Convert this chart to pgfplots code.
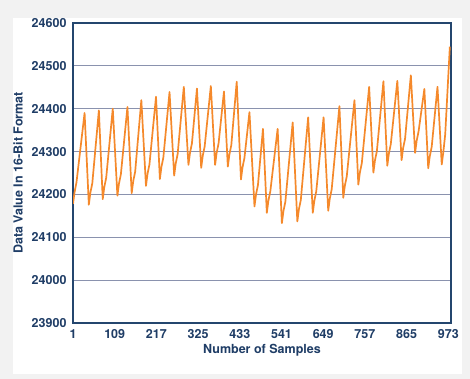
\documentclass[border=0pt]{standalone}
\usepackage{fontspec}
\setmainfont{TeX Gyre Heros}
\usepackage{pgfplots}
\pgfplotsset{compat=1.18}
\definecolor{bgc}{HTML}{F2F2F2}
\definecolor{axisc}{HTML}{24466E}
\definecolor{gridc}{HTML}{8A92AE}
\definecolor{textc}{HTML}{1F3D66}
\definecolor{linec}{HTML}{F5892B}
\begin{document}
\begin{tikzpicture}
\useasboundingbox (0,0) rectangle (470pt,379pt);
\fill[bgc] (0,0) rectangle (470pt,379pt);
\fill[white] (13pt,5pt) rectangle (462pt,361pt);
\begin{axis}[
  at={(73pt,56pt)}, anchor=south west,
  scale only axis, width=378pt, height=300pt,
  xmin=1, xmax=980, ymin=23900, ymax=24600,
  xtick={1,109,...,973},
  ytick={23900,24000,...,24600},
  scaled ticks=false,
  yticklabel={\pgfmathprintnumber[fixed,precision=0,set thousands separator={}]{\tick}},
  xticklabel={\pgfmathprintnumber[fixed,precision=0,set thousands separator={}]{\tick}},
  ymajorgrids,
  major grid style={color=gridc, line width=0.9pt},
  major tick length=0pt,
  axis line style={color=axisc, line width=1.5pt},
  tick label style={font=\bfseries\fontsize{12.5}{14}\selectfont, color=textc},
  yticklabel style={xshift=-3pt},
  xticklabel style={yshift=-3pt},
  /pgf/number format/assume math mode=true,
  /pgf/number format/set thousands separator={},
  xlabel={Number of Samples},
  ylabel={Data Value In 16-Bit Format},
  label style={font=\bfseries\fontsize{12.5}{14}\selectfont, color=textc},
  xlabel style={at={(axis description cs:0.5,-0.09)}, anchor=center},
  ylabel style={at={(axis description cs:-0.1455,0.5)}, anchor=center},
]
\addplot[color=linec, line width=1.7pt, line join=round] coordinates {
(1,24178) (5,24205) (10,24228) (31,24390)
(42,24176) (46,24204) (51,24226) (68,24396)
(78,24189) (82,24217) (87,24239) (104,24400)
(116,24197) (120,24225) (125,24247) (142,24404)
(153,24203) (157,24231) (162,24253) (178,24420)
(190,24220) (194,24248) (199,24270) (216,24428)
(226,24236) (230,24264) (235,24286) (251,24439)
(263,24244) (267,24272) (272,24294) (288,24451)
(300,24269) (304,24297) (309,24319) (322,24447)
(333,24262) (337,24290) (342,24312) (358,24453)
(369,24269) (373,24297) (378,24319) (392,24440)
(402,24265) (406,24293) (411,24315) (425,24463)
(436,24235) (440,24263) (445,24285) (458,24392)
(471,24172) (475,24200) (480,24222) (493,24353)
(503,24157) (507,24185) (512,24207) (531,24353)
(542,24133) (546,24161) (551,24183) (570,24368)
(582,24137) (586,24165) (591,24187) (610,24380)
(622,24157) (626,24185) (631,24207) (650,24380)
(662,24162) (666,24190) (671,24212) (691,24406)
(701,24192) (705,24220) (710,24242) (730,24420)
(740,24223) (744,24251) (749,24273) (768,24451)
(779,24251) (783,24279) (788,24301) (805,24464)
(815,24267) (819,24295) (824,24317) (841,24465)
(852,24280) (856,24308) (861,24330) (876,24478)
(887,24297) (891,24325) (896,24347) (911,24446)
(921,24261) (925,24289) (930,24311) (945,24451)
(956,24270) (960,24298) (965,24340) (977,24545)
};
\end{axis}
\end{tikzpicture}
\end{document}
